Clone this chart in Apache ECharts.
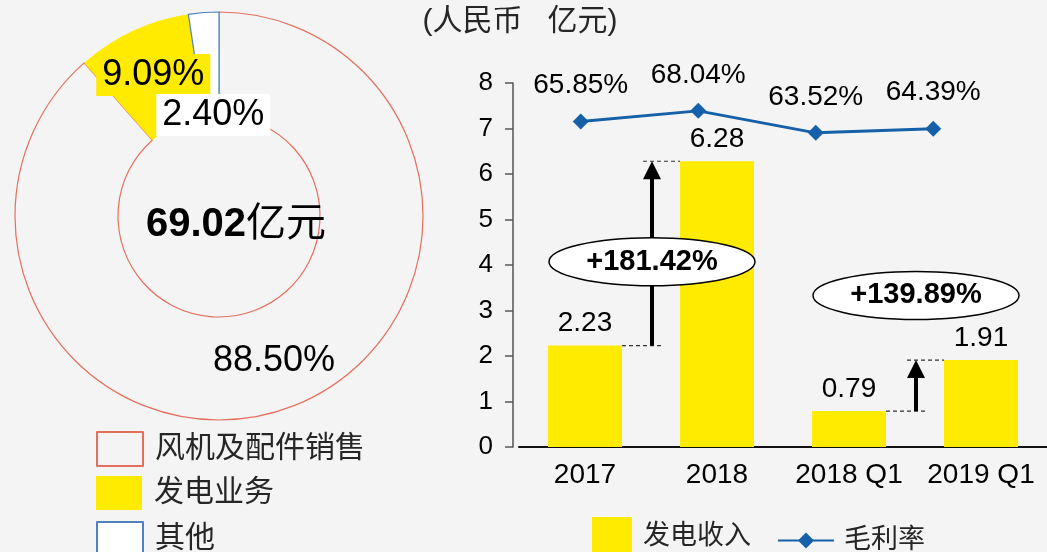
<!DOCTYPE html>
<html>
<head>
<meta charset="utf-8">
<script src="https://cdn.jsdelivr.net/npm/echarts@6/dist/echarts.min.js"></script>
<style>
html,body{margin:0;padding:0;background:#f4f4f4;}
#main{width:1047px;height:552px;}
</style>
</head>
<body>
<div id="main"></div>
<script>
//收入构成 + 发电收入
var pieNames = ['风机及配件销售', '发电业务', '其他'];
var pieShares = [88.50, 9.09, 2.40];
var pieTotal = '69.02';
var periods = ['2017', '2018', '2018 Q1', '2019 Q1'];
var revenue = [2.23, 6.28, 0.79, 1.91];
var grossMargin = [65.85, 68.04, 63.52, 64.39];
var growthLabels = ['+181.42%', '+139.89%'];

var FONT = '"Liberation Sans", Arial, "Noto Sans CJK SC", sans-serif';
var BG = '#f4f4f4';
var YELLOW = '#FFEB00';
var BLUE = '#1560A8';

var chart = echarts.init(document.getElementById('main'));

var pieStyles = [
	{ color: BG, borderColor: '#E3705E', borderWidth: 1.2 },
	{ color: YELLOW, borderWidth: 0 },
	{ color: '#fff', borderColor: '#4F81BD', borderWidth: 1.2 }
];
var pieLabels = [
	{},
	{ backgroundColor: YELLOW, padding: [3, 6] },
	{ backgroundColor: '#fff', padding: [3, 6] }
];
var pieData = pieNames.map(function (n, i) {
	return { name: n, value: pieShares[i], itemStyle: pieStyles[i], label: pieLabels[i] };
});

//左侧图例，每项一个
var pieLegends = pieNames.map(function (n, i) {
	return {
		data: [n],
		left: 96, top: 431 + i * 45,
		padding: 0,
		itemWidth: 46, itemHeight: 34,
		icon: 'rect',
		textStyle: { fontSize: 30, color: '#262626', padding: [0, 0, 0, 7], fontFamily: FONT }
	};
});

var option = {
	backgroundColor: BG,
	animation: false,
	textStyle: { fontFamily: FONT },
	legend: pieLegends.concat([
		{
			data: ['发电收入'],
			left: 592, top: 517,
			padding: 0,
			itemWidth: 40, itemHeight: 40,
			icon: 'rect',
			textStyle: { fontSize: 27, color: '#262626', padding: [0, 0, 0, 6], fontFamily: FONT }
		},
		{
			data: ['毛利率'],
			left: 777, top: 527,
			padding: 0,
			itemWidth: 56, itemHeight: 20,
			textStyle: { fontSize: 27, color: '#262626', padding: [0, 0, 0, 5], fontFamily: FONT }
		}
	]),
	grid: [
		{ left: 519, right: -2, top: 83, bottom: 105 },
		{ left: 522, right: 55, top: 77, bottom: 110 }
	],
	xAxis: [
		{
			type: 'category', gridIndex: 0,
			data: periods,
			axisLine: { lineStyle: { color: '#111', width: 2 } },
			axisTick: { show: false },
			axisLabel: { fontSize: 28, color: '#000', margin: 14, interval: 0 }
		},
		{ type: 'category', gridIndex: 1, data: periods, show: false }
	],
	yAxis: [
		{
			type: 'value', gridIndex: 0,
			min: 0, max: 8, interval: 1,
			offset: 6,
			axisLine: { show: true, lineStyle: { color: '#555', width: 1.5 } },
			axisTick: { show: true, length: 8, lineStyle: { color: '#555', width: 1.5 } },
			axisLabel: { fontSize: 26, color: '#000', margin: 20 },
			splitLine: { show: false }
		},
		{ type: 'value', gridIndex: 1, min: 0, max: 75, show: false, splitLine: { show: false } }
	],
	series: [
		{
			name: '收入构成',
			type: 'pie',
			center: [219, 216],
			radius: [101, 204],
			startAngle: 90,
			clockwise: true,
			avoidLabelOverlap: false,
			label: {
				show: true,
				position: 'inside',
				fontSize: 36,
				color: '#000',
				fontFamily: FONT,
				formatter: function (p) { return p.value.toFixed(2) + '%'; }
			},
			labelLine: { show: false },
			labelLayout: function (p) {
				return p.dataIndex === 2 ? { dx: 3, dy: 27 } : {};
			},
			data: pieData
		},
		{
			name: '发电收入',
			type: 'bar',
			xAxisIndex: 0, yAxisIndex: 0,
			barWidth: 74,
			itemStyle: { color: YELLOW },
			label: {
				show: true, position: 'top', distance: 8,
				fontSize: 28, color: '#000',
				formatter: function (p) { return p.value.toFixed(2); }
			},
			data: revenue
		},
		{
			name: '毛利率',
			type: 'line',
			xAxisIndex: 1, yAxisIndex: 1,
			symbol: 'diamond',
			symbolSize: 16,
			z: 5,
			lineStyle: { color: BLUE, width: 3 },
			itemStyle: { color: BLUE },
			label: {
				show: true, position: 'top', distance: 14,
				fontSize: 28, color: '#000',
				formatter: function (p) { return p.value.toFixed(2) + '%'; }
			},
			data: grossMargin
		}
	]
};
chart.setOption(option);

//增长箭头和标注
function growthMarks() {
	var barW = 74;
	var pairs = [[0, 1], [2, 3]];
	var ellipseAt = [4.07, 3.33];
	var els = [];
	pairs.forEach(function (pr, k) {
		var a = chart.convertToPixel({ xAxisIndex: 0, yAxisIndex: 0 }, [pr[0], revenue[pr[0]]]);
		var b = chart.convertToPixel({ xAxisIndex: 0, yAxisIndex: 0 }, [pr[1], revenue[pr[1]]]);
		var ax = (a[0] + b[0]) / 2 + 1;
		var dash = { stroke: '#333', lineWidth: 1.2, lineDash: [4, 3] };
		els.push({ type: 'line', z: 100, shape: { x1: a[0] + barW / 2, y1: a[1], x2: ax + 10, y2: a[1] }, style: dash });
		els.push({ type: 'line', z: 100, shape: { x1: ax - 9, y1: b[1], x2: b[0] - barW / 2, y2: b[1] }, style: dash });
		els.push({ type: 'line', z: 100, shape: { x1: ax, y1: a[1], x2: ax, y2: b[1] + 14 }, style: { stroke: '#000', lineWidth: 4 } });
		els.push({ type: 'polygon', z: 100, shape: { points: [[ax - 9, b[1] + 18], [ax + 9, b[1] + 18], [ax, b[1]]] }, style: { fill: '#000' } });
		var ey = chart.convertToPixel({ xAxisIndex: 0, yAxisIndex: 0 }, [pr[0], ellipseAt[k]])[1];
		els.push({ type: 'ellipse', z: 101, shape: { cx: ax, cy: ey, rx: 103, ry: 24 }, style: { fill: '#fff', stroke: '#000', lineWidth: 1.5 } });
		els.push({ type: 'text', z: 102, x: ax, y: ey, style: { text: growthLabels[k], fontSize: 29, fontWeight: 'bold', fontFamily: FONT, fill: '#000', align: 'center', verticalAlign: 'middle' } });
	});
	els.push({ type: 'text', z: 100, x: 520, y: 22, style: { text: '(人民币   亿元)', fontSize: 30, fontFamily: FONT, fill: '#262626', align: 'center', verticalAlign: 'middle' } });
	els.push({
		type: 'text', z: 100, x: 236, y: 225,
		style: {
			text: '{a|' + pieTotal + '}{b|亿元}',
			align: 'center', verticalAlign: 'middle',
			rich: {
				a: { fontSize: 40, fontWeight: 'bold', fontFamily: FONT, fill: '#000', color: '#000' },
				b: { fontSize: 40, fontFamily: FONT, fill: '#000', color: '#000' }
			}
		}
	});
	//整体重新设置一次，避免标签偏移被叠加
	option.graphic = els;
	chart.setOption(option, true);
}
growthMarks();
</script>
</body>
</html>
